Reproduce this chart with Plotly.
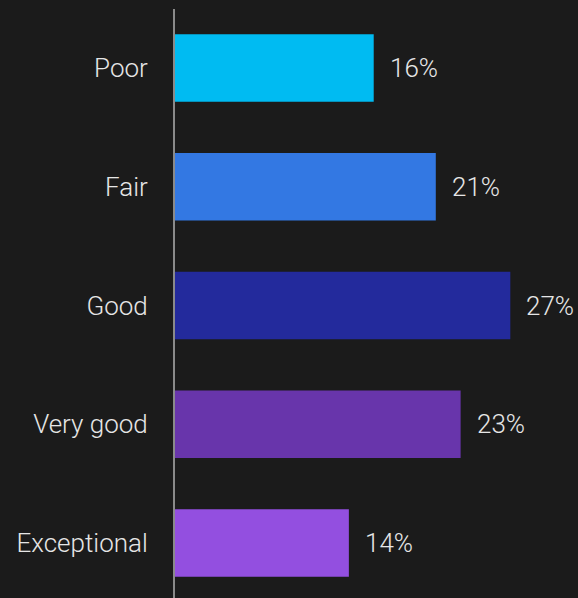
import plotly.graph_objects as go

# Survey rating distribution
categories = ["Poor", "Fair", "Good", "Very good", "Exceptional"]
shares = [16, 21, 27, 23, 14]
bar_colors = ["#00BBF2", "#3378E3", "#232A9C", "#6835AB", "#934FE0"]

BG = "#1B1B1B"
TEXT = "#E6E6E6"
FONT = "Roboto"

fig = go.Figure(
    go.Bar(
        x=shares,
        y=categories,
        orientation="h",
        marker=dict(color=bar_colors, line=dict(width=0)),
        width=0.57,
        hoverinfo="skip",
    )
)

# value labels to the right of each bar
for cat, val in zip(categories, shares):
    fig.add_annotation(
        x=val, y=cat, text=f"{val}%",
        xanchor="left", yanchor="middle", xshift=14, yshift=0,
        showarrow=False,
        font=dict(family=FONT, size=26, color=TEXT, weight=300),
    )

fig.update_layout(
    width=578, height=598,
    paper_bgcolor=BG, plot_bgcolor=BG,
    margin=dict(l=175, r=0, t=9, b=0),
    showlegend=False,
    font=dict(family=FONT, color=TEXT),
    xaxis=dict(range=[0, 32.45], visible=False, fixedrange=True),
    yaxis=dict(
        type="category",
        categoryorder="array", categoryarray=categories,
        range=[4.463, -0.497],
        showline=True, linecolor="#8A8A8A", linewidth=2,
        showgrid=False, zeroline=False,
        ticks="", ticklabelstandoff=20,
        tickfont=dict(family=FONT, size=26, color=TEXT, weight=300),
        fixedrange=True,
    ),
)

fig.write_html("out.html")
